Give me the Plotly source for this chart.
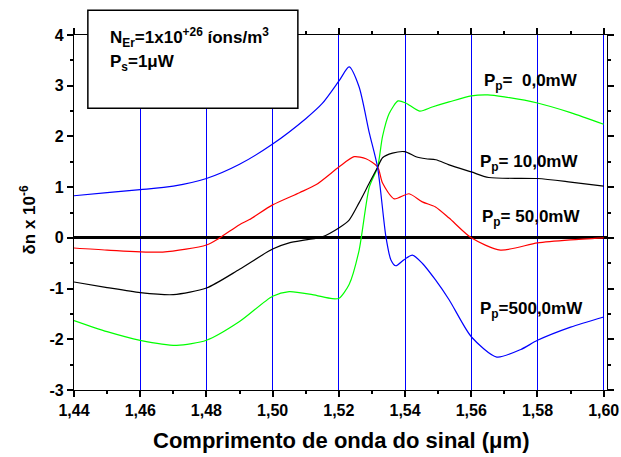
import plotly.graph_objects as go

# ---- data ----
x_p0 = [1.44, 1.45, 1.46, 1.471, 1.48, 1.49, 1.50, 1.505, 1.512, 1.518, 1.5201, 1.5231, 1.5261, 1.5292,
        1.5317, 1.5332, 1.5352, 1.5379, 1.5402, 1.5444, 1.5482, 1.5533, 1.56, 1.565, 1.57, 1.58, 1.59, 1.60]
y_p0 = [-1.63, -1.85, -2.02, -2.12, -2.02, -1.65, -1.15, -1.06, -1.12, -1.2, -1.19, -0.92, -0.25, 1.0,
        1.39, 2.0, 2.45, 2.70, 2.66, 2.5, 2.58, 2.68, 2.80, 2.82, 2.78, 2.66, 2.47, 2.24]

x_p10 = [1.44, 1.45, 1.46, 1.47, 1.48, 1.49, 1.50, 1.505, 1.51, 1.515, 1.5201, 1.5231, 1.5261, 1.5292,
         1.5317, 1.5332, 1.5362, 1.5399, 1.5433, 1.5463, 1.5493, 1.5533, 1.56, 1.5653, 1.58, 1.59, 1.60]
y_p10 = [-0.87, -0.98, -1.08, -1.12, -0.99, -0.62, -0.22, -0.1, -0.04, 0.02, 0.2, 0.35, 0.69, 1.08,
         1.39, 1.58, 1.67, 1.70, 1.6, 1.56, 1.54, 1.44, 1.30, 1.19, 1.17, 1.1, 1.02]

x_p50 = [1.44, 1.45, 1.4668, 1.48, 1.484, 1.49, 1.493, 1.50, 1.5081, 1.5132, 1.5201, 1.5246, 1.5282,
         1.5317, 1.5332, 1.5367, 1.5412, 1.5452, 1.5492, 1.5533, 1.56, 1.5688, 1.58, 1.59, 1.60]
y_p50 = [-0.2, -0.24, -0.28, -0.14, 0.0, 0.26, 0.36, 0.65, 0.89, 1.05, 1.40, 1.6, 1.56,
         1.40, 1.08, 0.77, 0.87, 0.71, 0.61, 0.39, 0.0, -0.24, -0.1, -0.04, 0.0]

x_p500 = [1.44, 1.45, 1.46, 1.47, 1.48, 1.49, 1.50, 1.51, 1.515, 1.5201, 1.5231, 1.5261, 1.5292, 1.5317,
          1.5342, 1.5357, 1.5372, 1.5397, 1.5422, 1.5452, 1.5492, 1.5533, 1.56, 1.5677, 1.575, 1.58, 1.59, 1.60]
y_p500 = [0.83, 0.89, 0.95, 1.02, 1.17, 1.45, 1.85, 2.35, 2.65, 3.1, 3.37, 2.98, 2.07, 1.39,
          0.03, -0.43, -0.55, -0.43, -0.34, -0.5, -0.83, -1.22, -1.95, -2.35, -2.2, -2.02, -1.76, -1.56]

x_tickvals = [1.44, 1.46, 1.48, 1.50, 1.52, 1.54, 1.56, 1.58, 1.60]
x_ticktext = ["1,44", "1,46", "1,48", "1,50", "1,52", "1,54", "1,56", "1,58", "1,60"]
y_tickvals = [-3, -2, -1, 0, 1, 2, 3, 4]
y_ticktext = ["-3", "-2", "-1", "0", "1", "2", "3", "4"]

series_names = ["P<sub>p</sub>=\u00a0\u00a00,0mW", "P<sub>p</sub>=\u00a010,0mW",
                "P<sub>p</sub>=\u00a050,0mW", "P<sub>p</sub>=500,0mW"]
label_x = [1.5632, 1.5620, 1.5626, 1.5620]
label_y = [3.08, 1.48, 0.39, -1.42]

FONT = "Arial, 'Liberation Sans', sans-serif"

fig = go.Figure()
for xs, ys, col in [(x_p0, y_p0, "#00ff00"), (x_p10, y_p10, "#000000"),
                    (x_p50, y_p50, "#ff0000"), (x_p500, y_p500, "#0000ff")]:
    fig.add_trace(go.Scatter(x=xs, y=ys, mode="lines",
                             line=dict(color=col, width=1.2, shape="spline", smoothing=0.7),
                             showlegend=False, hoverinfo="skip"))

for name, lx, ly in zip(series_names, label_x, label_y):
    fig.add_annotation(x=lx, y=ly, text="<b>" + name + "</b>", showarrow=False,
                       xanchor="left", yanchor="middle",
                       font=dict(family=FONT, size=17, color="black"))

# info box
fig.add_shape(type="rect", xref="paper", yref="paper", x0=0.026, x1=0.42, y0=0.794, y1=1.07,
              line=dict(color="black", width=1.5), fillcolor="white", layer="above")
fig.add_annotation(xref="paper", yref="paper", x=0.063, y=0.993, xanchor="left", yanchor="middle",
                   text="<b>N<sub>Er</sub>=1x10<sup>+26</sup> íons/m<sup>3</sup></b>", showarrow=False,
                   font=dict(family=FONT, size=17, color="black"))
fig.add_annotation(xref="paper", yref="paper", x=0.063, y=0.921, xanchor="left", yanchor="middle",
                   text="<b>P<sub>s</sub>=1μW</b>", showarrow=False,
                   font=dict(family=FONT, size=17, color="black"))

# axis titles as paper annotations
fig.add_annotation(xref="paper", yref="paper", x=0.5, y=-0.142, xanchor="center", yanchor="middle",
                   text="<b>Comprimento de onda do sinal (μm)</b>", showarrow=False,
                   font=dict(family=FONT, size=22, color="black"))
fig.add_annotation(xref="paper", yref="paper", x=-0.086, y=0.478, xanchor="center", yanchor="middle",
                   text="<b>δn x 10<sup>-6</sup></b>", showarrow=False, textangle=-90,
                   font=dict(family=FONT, size=17, color="black"))

fig.update_xaxes(range=[1.44, 1.601], tickvals=x_tickvals, ticktext=x_ticktext,
                 showgrid=True, gridcolor="#0000ff", gridwidth=1,
                 showline=True, linecolor="black", linewidth=1.2, mirror="ticks",
                 ticks="outside", ticklen=6, tickwidth=1.5, tickcolor="black",
                 minor=dict(dtick=0.01, tick0=1.44, ticks="outside", ticklen=3, tickcolor="black", showgrid=False),
                 zeroline=False, automargin=False,
                 tickfont=dict(family=FONT, size=16, color="black", weight="bold"))
fig.update_yaxes(range=[-3, 4], tickvals=y_tickvals, ticktext=y_ticktext,
                 showgrid=False, showline=True, linecolor="black", linewidth=1.2, mirror="ticks",
                 ticks="outside", ticklen=6, tickwidth=1.5, tickcolor="black",
                 minor=dict(dtick=0.5, tick0=0, ticks="outside", ticklen=3, tickcolor="black", showgrid=False),
                 zeroline=True, zerolinecolor="black", zerolinewidth=3, automargin=False,
                 tickfont=dict(family=FONT, size=16, color="black", weight="bold"))

fig.update_layout(width=621, height=457, margin=dict(l=74, r=14, t=35, b=67),
                  plot_bgcolor="white", paper_bgcolor="white")

fig.write_html("out.html", config={"displayModeBar": False},
               post_script="document.body.style.margin='0';document.body.style.padding='0';")
